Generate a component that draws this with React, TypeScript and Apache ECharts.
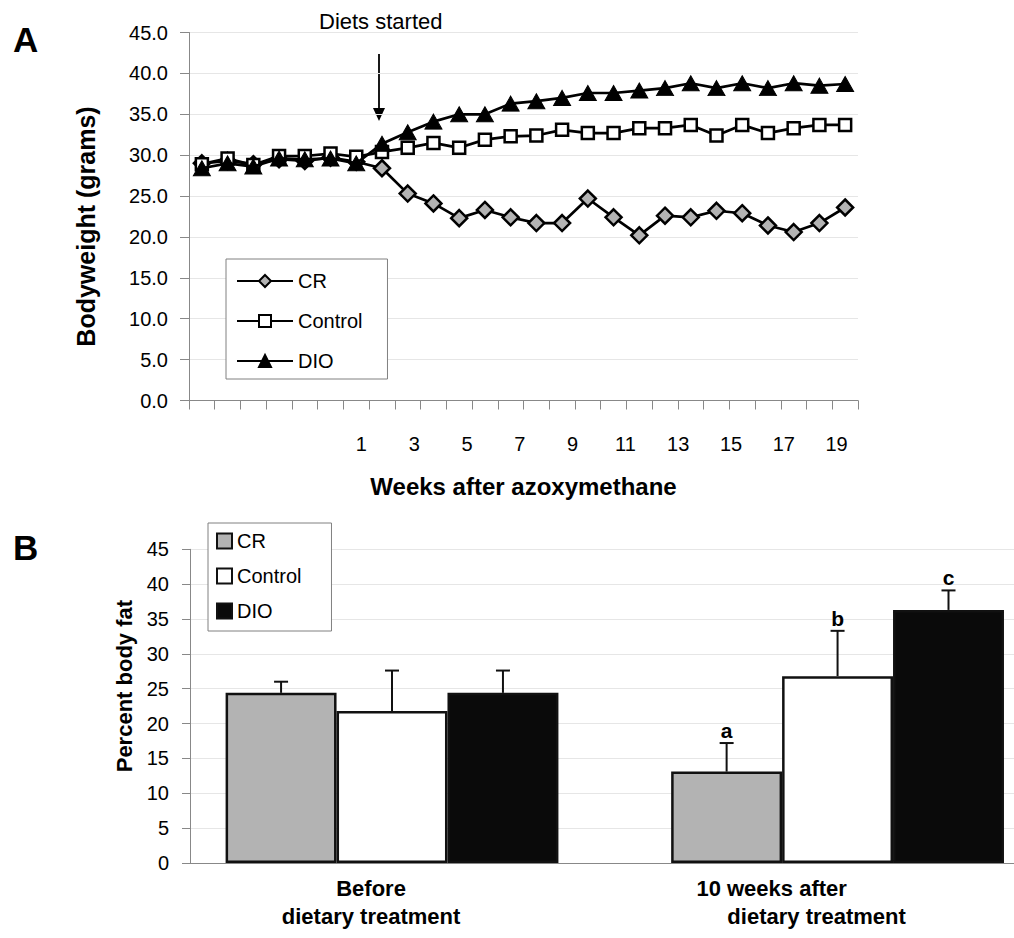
import React, { useEffect, useRef } from 'react';
import * as echarts from 'echarts';

// ---------- Panel A data ----------
const weeks = ['-5', '-4', '-3', '-2', '-1', '0', '1', '2', '3', '4', '5', '6', '7', '8', '9', '10', '11', '12', '13', '14', '15', '16', '17', '18', '19', '20'];
const weekTickLabels = [1, 3, 5, 7, 9, 11, 13, 15, 17, 19];
const crWeight = [29.0, 29.3, 28.9, 29.5, 29.3, 29.7, 29.2, 28.4, 25.3, 24.1, 22.3, 23.3, 22.4, 21.7, 21.7, 24.7, 22.4, 20.2, 22.6, 22.4, 23.2, 22.9, 21.4, 20.6, 21.7, 23.6];
const controlWeight = [28.9, 29.6, 28.8, 29.9, 29.9, 30.2, 29.8, 30.4, 30.9, 31.5, 30.9, 31.9, 32.3, 32.4, 33.1, 32.7, 32.7, 33.3, 33.3, 33.7, 32.4, 33.7, 32.7, 33.3, 33.7, 33.7];
const dioWeight = [28.4, 29.0, 28.6, 29.6, 29.5, 29.6, 29.0, 31.4, 32.8, 34.1, 35.0, 35.0, 36.3, 36.6, 37.0, 37.6, 37.6, 37.9, 38.2, 38.8, 38.2, 38.8, 38.2, 38.8, 38.5, 38.7];

// ---------- Panel B data ----------
const groups = ['Before\ndietary treatment', '10 weeks after\ndietary treatment'];
const crFat = [24.4, 13.1];
const crErr = [1.6, 4.1];
const controlFat = [21.8, 26.8];
const controlErr = [5.8, 6.5];
const dioFat = [24.4, 36.3];
const dioErr = [3.2, 2.8];
const crLetters = ['', 'a'];
const controlLetters = ['', 'b'];
const dioLetters = ['', 'c'];

const FONT = 'Liberation Sans, Arial, Helvetica, sans-serif';
const BAR_FRAC = 0.249;
const LABEL_SHIFT = -0.047;

export default function App() {
  const ref = useRef<HTMLDivElement>(null);

  useEffect(() => {
    if (!ref.current) return;
    const chart = echarts.init(ref.current, null, { renderer: 'svg' });

    const fatSeries = [
      { name: 'CR %fat', values: crFat, errs: crErr, letters: crLetters, color: '#b3b3b3' },
      { name: 'Control %fat', values: controlFat, errs: controlErr, letters: controlLetters, color: '#ffffff' },
      { name: 'DIO %fat', values: dioFat, errs: dioErr, letters: dioLetters, color: '#0a0a0a' },
    ];

    const errData: any[] = [];
    const errLetters: string[] = [];
    fatSeries.forEach((s, si) => {
      s.values.forEach((v, gi) => {
        errData.push([gi, v, s.errs[gi], si]);
        errLetters.push(s.letters[gi]);
      });
    });

    const groupLabel = (v: number) => {
      const i = Math.round(v);
      const g = groups[i];
      if (!g) return '';
      const [l1, l2] = g.split('\n');
      return `{${i === 1 ? 'first' : 'plain'}|${l1}}\n{plain|${l2}}`;
    };

    const option: any = {
      animation: false,
      backgroundColor: '#ffffff',
      textStyle: { fontFamily: FONT, color: '#000' },
      grid: [
        { left: 189, top: 32.5, width: 669, height: 368 },
        { left: 190, top: 549.3, width: 824, height: 313.6 },
      ],
      legend: [
        {
          orient: 'vertical',
          left: 226,
          top: 259,
          data: ['CR', 'Control', 'DIO'],
          itemWidth: 56,
          itemHeight: 15,
          itemGap: 20,
          padding: [12, 25, 8, 10],
          borderColor: '#808080',
          borderWidth: 1,
          backgroundColor: '#fff',
          selectedMode: false,
          textStyle: { fontSize: 20, color: '#000', fontFamily: FONT },
        },
        {
          orient: 'vertical',
          left: 208,
          top: 523,
          data: ['CR %fat', 'Control %fat', 'DIO %fat'],
          formatter: (n: string) => n.replace(' %fat', ''),
          icon: 'rect',
          itemWidth: 15,
          itemHeight: 15,
          itemGap: 15,
          padding: [8, 30, 10, 8],
          borderColor: '#808080',
          borderWidth: 1,
          backgroundColor: '#fff',
          selectedMode: false,
          textStyle: { fontSize: 20, color: '#000', fontFamily: FONT },
        },
      ],
      xAxis: [
        {
          type: 'category',
          gridIndex: 0,
          data: weeks,
          boundaryGap: true,
          axisLine: { lineStyle: { color: '#888', width: 1 } },
          axisTick: { show: true, interval: 0, length: 9, lineStyle: { color: '#888' } },
          axisLabel: { show: false },
          splitLine: { show: false },
        },
        {
          type: 'value',
          gridIndex: 0,
          min: -5.53,
          max: 19.81,
          position: 'bottom',
          axisLine: { show: false },
          axisTick: { show: false },
          splitLine: { show: false },
          axisLabel: { customValues: weekTickLabels, margin: 33, fontSize: 20, color: '#000', fontFamily: FONT },
          name: 'Weeks after azoxymethane',
          nameLocation: 'middle',
          nameGap: 74,
          nameTextStyle: { fontSize: 24, fontWeight: 'bold', color: '#000', fontFamily: FONT },
        },
        {
          type: 'value',
          gridIndex: 1,
          min: -0.4534,
          max: 1.396,
          axisLine: { onZero: false, lineStyle: { color: '#888', width: 1 } },
          axisTick: { show: false },
          splitLine: { show: false },
          axisLabel: {
            customValues: [0 + LABEL_SHIFT, 1 + LABEL_SHIFT],
            formatter: groupLabel,
            margin: 12,
            color: '#000',
            rich: {
              plain: { fontSize: 22, fontWeight: 'bold', lineHeight: 28, fontFamily: FONT, color: '#000' },
              first: { fontSize: 22, fontWeight: 'bold', lineHeight: 28, fontFamily: FONT, color: '#000', padding: [0, 90, 0, 0] },
            },
          },
        },
      ],
      yAxis: [
        {
          type: 'value',
          gridIndex: 0,
          min: 0,
          max: 45,
          interval: 5,
          axisLine: { show: true, onZero: false, lineStyle: { color: '#888', width: 1 } },
          axisTick: { show: true, length: 9, lineStyle: { color: '#888' } },
          axisLabel: { formatter: (v: number) => v.toFixed(1), fontSize: 20, margin: 21, color: '#000', fontFamily: FONT },
          splitLine: { lineStyle: { color: '#e6e6e6', width: 1 } },
          name: 'Bodyweight (grams)',
          nameLocation: 'middle',
          nameRotate: 90,
          nameGap: 91,
          nameTextStyle: { fontSize: 25, fontWeight: 'bold', color: '#000', fontFamily: FONT, padding: [0, 20, 0, 0] },
        },
        {
          type: 'value',
          gridIndex: 1,
          min: 0,
          max: 45,
          interval: 5,
          axisLine: { show: true, onZero: false, lineStyle: { color: '#888', width: 1 } },
          axisTick: { show: true, length: 8, lineStyle: { color: '#888' } },
          axisLabel: { fontSize: 20, margin: 21, color: '#000', fontFamily: FONT },
          splitLine: { lineStyle: { color: '#e6e6e6', width: 1 } },
          name: 'Percent body fat',
          nameLocation: 'middle',
          nameRotate: 90,
          nameGap: 52,
          nameTextStyle: { fontSize: 22, fontWeight: 'bold', color: '#000', fontFamily: FONT, padding: [0, 0, 0, 40] },
        },
      ],
      series: [
        {
          name: 'CR',
          type: 'line',
          xAxisIndex: 0,
          yAxisIndex: 0,
          data: crWeight,
          symbol: 'diamond',
          symbolSize: 16,
          lineStyle: { color: '#000', width: 2.7 },
          itemStyle: { color: '#b3b3b3', borderColor: '#000', borderWidth: 2.5 },
          z: 2,
        },
        {
          name: 'Control',
          type: 'line',
          xAxisIndex: 0,
          yAxisIndex: 0,
          data: controlWeight,
          symbol: 'rect',
          symbolSize: 12,
          lineStyle: { color: '#000', width: 2.7 },
          itemStyle: { color: '#ffffff', borderColor: '#000', borderWidth: 2.5 },
          z: 3,
        },
        {
          name: 'DIO',
          type: 'line',
          xAxisIndex: 0,
          yAxisIndex: 0,
          data: dioWeight,
          symbol: 'triangle',
          symbolSize: [17, 15],
          lineStyle: { color: '#000', width: 2.7 },
          itemStyle: { color: '#000', borderColor: '#000', borderWidth: 1 },
          z: 4,
        },
        ...fatSeries.map((s) => ({
          name: s.name,
          type: 'bar',
          xAxisIndex: 2,
          yAxisIndex: 1,
          data: s.values.map((v, i) => [i, v]),
          barWidth: (BAR_FRAC * 100).toFixed(1) + '%',
          barGap: '0%',
          itemStyle: { color: s.color, borderColor: '#111', borderWidth: 2.5 },
          z: 2,
        })),
        {
          type: 'custom',
          name: 'error bars',
          xAxisIndex: 2,
          yAxisIndex: 1,
          data: errData,
          z: 5,
          renderItem: (params: any, api: any) => {
            const x = api.value(0);
            const mean = api.value(1);
            const err = api.value(2);
            const s = api.value(3);
            const band = api.size([1, 0])[0];
            const off = (s - 1) * band * BAR_FRAC;
            const base = api.coord([x, mean]);
            const top = api.coord([x, mean + err]);
            const cx = base[0] + off;
            const children: any[] = [
              { type: 'line', shape: { x1: cx, y1: base[1], x2: cx, y2: top[1] }, style: { stroke: '#111', lineWidth: 2 } },
              { type: 'line', shape: { x1: cx - 7, y1: top[1], x2: cx + 7, y2: top[1] }, style: { stroke: '#111', lineWidth: 2 } },
            ];
            const letter = errLetters[params.dataIndex];
            if (letter) {
              children.push({
                type: 'text',
                x: cx,
                y: top[1] - 2,
                style: { text: letter, font: `bold 21px ${FONT}`, fill: '#000', align: 'center', verticalAlign: 'bottom' },
              });
            }
            return { type: 'group', children };
          },
        },
      ],
      graphic: [
        { type: 'text', left: 13, top: 22, style: { text: 'A', font: `bold 35px ${FONT}`, fill: '#000' } },
        { type: 'text', left: 13, top: 530, style: { text: 'B', font: `bold 35px ${FONT}`, fill: '#000' } },
        { type: 'text', x: 319, y: 21, style: { text: 'Diets started', font: `22px ${FONT}`, fill: '#000', verticalAlign: 'middle' } },
        { type: 'line', shape: { x1: 379, y1: 54, x2: 379, y2: 112 }, style: { stroke: '#000', lineWidth: 1.8 } },
        { type: 'polygon', shape: { points: [[373, 108], [385, 108], [379, 121]] }, style: { fill: '#000' } },
      ],
    };

    chart.setOption(option);
    return () => chart.dispose();
  }, []);

  return (
    <div
      ref={ref}
      style={{ position: 'absolute', left: 0, top: 0, width: 1014, height: 938, background: '#fff' }}
    />
  );
}
